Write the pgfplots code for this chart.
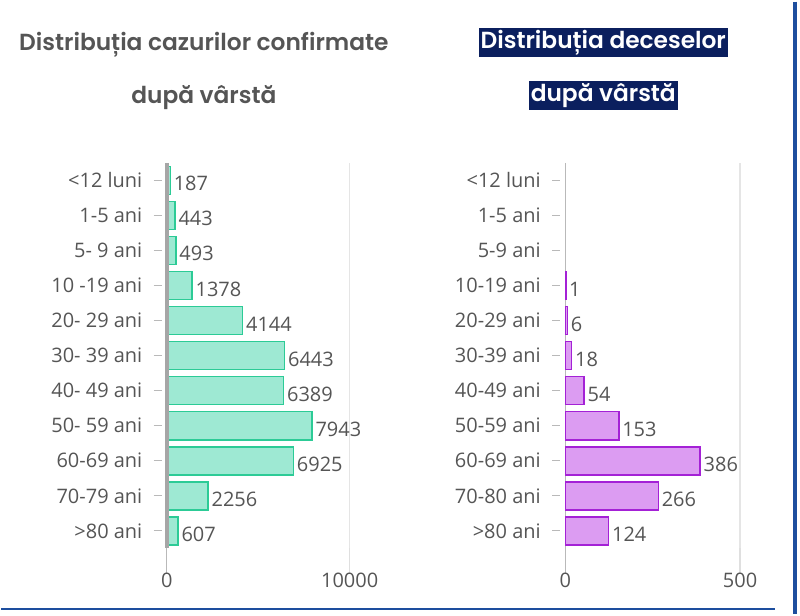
\documentclass[border=0pt]{standalone}
\usepackage{pgfplots}
\pgfplotsset{compat=1.18}
\usepackage{fontspec}
\setmainfont{Open Sans}
\newfontfamily\titlefont{Poppins}[BoldFont={* SemiBold}]
\definecolor{txt}{HTML}{555555}
\definecolor{navy}{HTML}{0B1F5E}
\definecolor{mintfill}{HTML}{9EE9D3}
\definecolor{mintline}{HTML}{2CCB96}
\definecolor{purfill}{HTML}{DC9CF2}
\definecolor{purline}{HTML}{A421D6}
\definecolor{frame}{HTML}{1D4E9E}
\begin{document}
\begin{tikzpicture}[x=0.75pt,y=-0.75pt]
\path (0,0) rectangle (800,613);
\coordinate (L) at (166,547.5);
\coordinate (R) at (565,547.5);
\pgfplotsset{
  agebar/.style={
    xbar, scale only axis, height=289.5pt, y dir=reverse,
    ymin=-0.5, ymax=10.5, xmin=0,
    ytick={0,...,10},
    ytick pos=left,
    bar width=0.8,
    axis x line=none,
    y axis line style={draw=none},
    major tick length=6pt,
    tick align=outside,
    ytick style={draw=gray!55, line width=0.8pt, xshift=-4pt},
    yticklabel style={font=\fontsize{15}{18}\selectfont, text=txt, xshift=-9pt},
    nodes near coords={\pgfmathprintnumber[assume math mode=true,1000 sep={}]{\pgfplotspointmeta}},
    nodes near coords style={font=\fontsize{15}{18}\selectfont, text=txt, anchor=west, inner xsep=2pt, yshift=-2.5pt},
    clip=false,
  }
}
% left chart
\begin{axis}[agebar, at={(L)}, anchor=south west, width=137.25pt, xmax=10000,
  yticklabels={{<12 luni},{1-5 ani},{5- 9 ani},{10 -19 ani},{20- 29 ani},{30- 39 ani},{40- 49 ani},{50- 59 ani},{60-69 ani},{70-79 ani},{>80 ani}}]
\draw[gray!20, line width=1pt] (axis cs:10000,-0.5) -- (axis cs:10000,10.5);
\draw[gray!25, line width=1pt] (axis cs:10000,10.5) -- ++(0,-6pt);
\draw[gray!55, line width=0.8pt] (axis cs:0,-0.5) -- (axis cs:0,10.5) -- ++(0,-6pt);
\addplot[fill=mintfill, draw=mintline, line width=1.2pt] coordinates {
(187,0) (443,1) (493,2) (1378,3) (4144,4) (6443,5) (6389,6) (7943,7) (6925,8) (2256,9) (607,10)};
\draw[gray!70, line width=3.2pt] (axis cs:0,-0.5) -- (axis cs:0,10.5);
\node[font=\fontsize{15}{18}\selectfont, text=txt] at (axis cs:0,10.5) [yshift=-24.4pt] {0};
\node[font=\fontsize{15}{18}\selectfont, text=txt] at (axis cs:10000,10.5) [yshift=-24.4pt] {10000};
\end{axis}
% right chart
\begin{axis}[agebar, at={(R)}, anchor=south west, width=131.25pt, xmax=500,
  yticklabels={{<12 luni},{1-5 ani},{5-9 ani},{10-19 ani},{20-29 ani},{30-39 ani},{40-49 ani},{50-59 ani},{60-69 ani},{70-80 ani},{>80 ani}}]
\draw[gray!20, line width=1pt] (axis cs:500,-0.5) -- (axis cs:500,10.5);
\draw[gray!25, line width=1pt] (axis cs:500,10.5) -- ++(0,-6pt);
\draw[gray!55, line width=0.8pt] (axis cs:0,-0.5) -- (axis cs:0,10.5) -- ++(0,-6pt);
\addplot[fill=purfill, draw=purline, line width=1.2pt] coordinates {
(1,3) (6,4) (18,5) (54,6) (153,7) (386,8) (266,9) (124,10)};
\node[font=\fontsize{15}{18}\selectfont, text=txt] at (axis cs:0,10.5) [yshift=-24.4pt] {0};
\node[font=\fontsize{15}{18}\selectfont, text=txt] at (axis cs:500,10.5) [yshift=-24.4pt] {500};
\end{axis}
% titles
\node[font=\titlefont\bfseries\fontsize{17.5}{20}\selectfont, text=txt] at (203,43) {Distribuția cazurilor confirmate};
\node[font=\titlefont\bfseries\fontsize{17.5}{20}\selectfont, text=txt] at (203,96) {după vârstă};
\node[font=\titlefont\bfseries\fontsize{17.5}{20}\selectfont, text=white, fill=navy, inner xsep=1.5pt, inner ysep=1.5pt] at (603,41) {Distribuția deceselor};
\node[font=\titlefont\bfseries\fontsize{17.5}{20}\selectfont, text=white, fill=navy, inner xsep=1.5pt, inner ysep=1.5pt] at (603,94) {după vârstă};
% frame
\draw[frame, line width=1.8pt] (0,608) -- (775,608);
\draw[frame, line width=2.5pt] (795,0) -- (795,613);
\end{tikzpicture}
\end{document}
